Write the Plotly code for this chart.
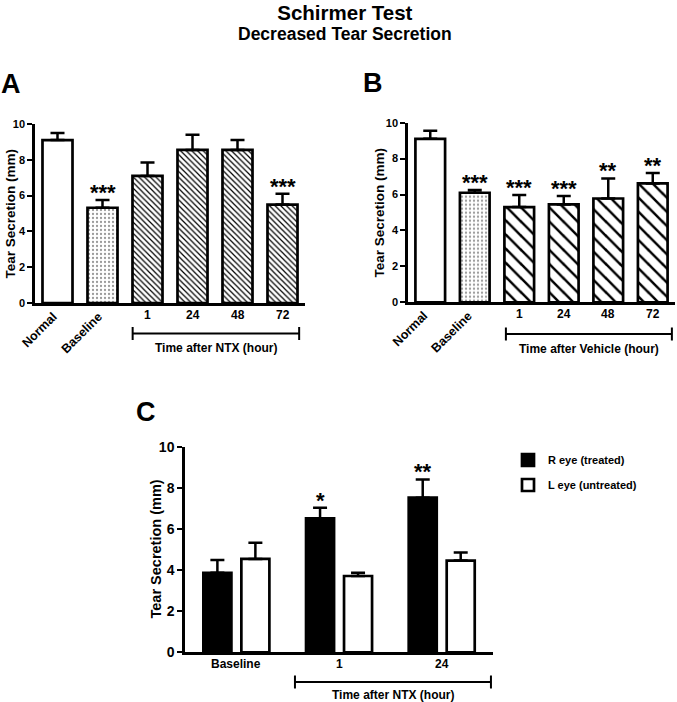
import plotly.graph_objects as go

# ---------------- data ----------------
A_cats = ["Normal", "Baseline", "1", "24", "48", "72"]
A_vals = [9.1, 5.32, 7.1, 8.55, 8.55, 5.5]
A_err = [0.4, 0.43, 0.75, 0.85, 0.55, 0.6]
A_stars = ["", "***", "", "", "", "***"]

B_cats = ["Normal", "Baseline", "1", "24", "48", "72"]
B_vals = [9.1, 6.1, 5.3, 5.45, 5.78, 6.62]
B_err = [0.45, 0.15, 0.67, 0.47, 1.12, 0.58]
B_stars = ["", "***", "***", "***", "**", "**"]

C_cats = ["Baseline", "1", "24"]
C_R = [3.87, 6.52, 7.52]
C_R_err = [0.62, 0.51, 0.89]
C_L = [4.54, 3.71, 4.46]
C_L_err = [0.79, 0.16, 0.40]
C_R_stars = ["", "*", "**"]

y_ticks = [0, 2, 4, 6, 8, 10]

# ---------------- styling ----------------
FONT = "Liberation Sans, Arial, sans-serif"
BLACK = "#000000"

fig = go.Figure()

def pattern_for(n, hatch_size, hatch_sol):
    shapes = ["", "."] + ["\\"] * (n - 2)
    sizes = [8, 4] + [hatch_size] * (n - 2)
    fg = [BLACK, "#9a9a9a"] + [BLACK] * (n - 2)
    sol = [0.2, 0.25] + [hatch_sol] * (n - 2)
    return dict(shape=shapes, size=sizes, fgcolor=fg, bgcolor="white",
                solidity=sol, fillmode="replace")

def err(arr):
    return dict(type="data", symmetric=False, array=arr, arrayminus=[0] * len(arr),
                color=BLACK, thickness=2.5, width=7)

fig.add_trace(go.Bar(
    x=A_cats, y=A_vals, xaxis="x", yaxis="y", width=0.667, showlegend=False,
    marker=dict(color="white", line=dict(color=BLACK, width=2.7),
                pattern=pattern_for(len(A_cats), 4, 0.3)),
    error_y=err(A_err), hoverinfo="skip"))

fig.add_trace(go.Bar(
    x=B_cats, y=B_vals, xaxis="x2", yaxis="y2", width=0.667, showlegend=False,
    marker=dict(color="white", line=dict(color=BLACK, width=2.7),
                pattern=pattern_for(len(B_cats), 10, 0.25)),
    error_y=err(B_err), hoverinfo="skip"))

C_W = 0.273
C_OFF_R = -0.321
C_OFF_L = 0.049
fig.add_trace(go.Bar(
    x=C_cats, y=C_R, xaxis="x3", yaxis="y3", width=C_W, offset=C_OFF_R,
    name="R eye (treated)", legend="legend",
    marker=dict(color=BLACK, line=dict(color=BLACK, width=2.7)),
    error_y=err(C_R_err), hoverinfo="skip"))
fig.add_trace(go.Bar(
    x=C_cats, y=C_L, xaxis="x3", yaxis="y3", width=C_W, offset=C_OFF_L,
    name="L eye (untreated)", legend="legend2",
    marker=dict(color="white", line=dict(color=BLACK, width=2.7)),
    error_y=err(C_L_err), hoverinfo="skip"))

# ---------------- axes ----------------
def yax(domain, anchor, size):
    return dict(domain=domain, anchor=anchor, range=[0, 10], tickvals=y_ticks,
                ticks="outside", ticklen=5, tickwidth=2, tickcolor=BLACK,
                showline=True, linewidth=2.5, linecolor=BLACK, showgrid=False,
                zeroline=False, automargin=False,
                tickfont=dict(family=FONT, size=size, color=BLACK, weight="bold"),
                fixedrange=True)

def xax(domain, anchor, n):
    return dict(domain=domain, anchor=anchor, type="category", range=[-0.5, n - 0.5],
                showticklabels=False, ticks="", showline=True, linewidth=2.5,
                linecolor=BLACK, showgrid=False, zeroline=False, automargin=False,
                fixedrange=True)

W, H = 677, 702
fig.update_layout(
    width=W, height=H, margin=dict(l=0, r=0, t=0, b=0, autoexpand=False),
    paper_bgcolor="white", plot_bgcolor="white", barmode="overlay",
    xaxis=xax([35 / W, 305 / W], "y", len(A_cats)),
    yaxis=yax([1 - 303 / H, 1 - 124 / H], "x", 11),
    xaxis2=xax([408 / W, 675 / W], "y2", len(B_cats)),
    yaxis2=yax([1 - 302.3 / H, 1 - 122.7 / H], "x2", 11),
    xaxis3=xax([185 / W, 493 / W], "y3", len(C_cats)),
    yaxis3=yax([1 - 652.3 / H, 1 - 446.7 / H], "x3", 14),
    legend=dict(x=508 / W, y=1 - 460 / H, xanchor="left", yanchor="middle",
                font=dict(family=FONT, size=11, color=BLACK, weight="bold"),
                bgcolor="rgba(0,0,0,0)"),
    legend2=dict(x=508 / W, y=1 - 485 / H, xanchor="left", yanchor="middle",
                 font=dict(family=FONT, size=11, color=BLACK, weight="bold"),
                 bgcolor="rgba(0,0,0,0)"),
)

ann = []
def A(**kw):
    ann.append(kw)

# two-line title in one text block
A(text="<span style='font-size:20.5px'>Schirmer Test</span><br>"
       "<span style='font-size:17.5px'>Decreased Tear Secretion</span>",
  x=345 / W, y=1 - 22 / H, xref="paper", yref="paper",
  xanchor="center", yanchor="middle", showarrow=False,
  font=dict(family=FONT, size=15.4, color=BLACK, weight="bold"))

# panel letters
for letter, px, py in [("A", 11, 84), ("B", 372.5, 83), ("C", 146, 411.5)]:
    A(text=letter, x=px / W, y=1 - py / H, xref="paper", yref="paper", showarrow=False,
      xanchor="center", yanchor="middle",
      font=dict(family=FONT, size=27, color=BLACK, weight="bold"))

# y titles
for xr, shift, size in [("x domain", -25, 13.5), ("x2 domain", -29, 13.5), ("x3 domain", -30, 14.5)]:
    yr = xr.replace("x", "y")
    A(text="Tear Secretion (mm)", x=0, y=0.5, xref=xr, yref=yr, xshift=shift,
      xanchor="center", yanchor="middle", textangle=-90, showarrow=False,
      font=dict(family=FONT, size=size, color=BLACK, weight="bold"))

# x labels A/B (category index positions)
for xr, yr, cats, rshift in [("x", "y domain", A_cats, 5), ("x2", "y2 domain", B_cats, 3)]:
    for i, c in enumerate(cats):
        if i < 2:
            A(text=c, x=i, y=0, xref=xr, yref=yr, textangle=-45, xanchor="right",
              yanchor="top", xshift=rshift, yshift=-4, showarrow=False,
              font=dict(family=FONT, size=12.5, color=BLACK, weight="bold"))
        else:
            A(text=c, x=i, y=0, xref=xr, yref=yr, xanchor="center", yanchor="middle",
              yshift=-12, showarrow=False,
              font=dict(family=FONT, size=12, color=BLACK, weight="bold"))
# x labels C
for i, c in enumerate(C_cats):
    A(text=c, x=i, y=0, xref="x3", yref="y3 domain", xanchor="center", yanchor="middle",
      yshift=-12, showarrow=False, font=dict(family=FONT, size=12, color=BLACK, weight="bold"))

# stars
def stars(xr, yr, vals, errs, marks, dx=0.0):
    for i, (v, e, m) in enumerate(zip(vals, errs, marks)):
        if m:
            A(text=m, x=i + dx, y=v + e, xref=xr, yref=yr, xanchor="center",
              yanchor="bottom", yshift=-7, showarrow=False,
              font=dict(family=FONT, size=22, color=BLACK, weight="bold"))

stars("x", "y", A_vals, A_err, A_stars)
stars("x2", "y2", B_vals, B_err, B_stars)
stars("x3", "y3", C_R, C_R_err, C_R_stars, dx=C_OFF_R + C_W / 2)

# brackets
shapes = []
def bracket(xr, x0, x1, ypx, label, dy):
    yp = 1 - ypx / H
    t = 6.5 / H
    ln = dict(color=BLACK, width=2)
    shapes.append(dict(type="line", xref=xr, yref="paper", x0=x0, x1=x1, y0=yp, y1=yp, line=ln))
    for xx in (x0, x1):
        shapes.append(dict(type="line", xref=xr, yref="paper", x0=xx, x1=xx, y0=yp - t, y1=yp + t, line=ln))
    A(text=label, x=(x0 + x1) / 2, y=yp - dy / H, xref=xr, yref="paper",
      xanchor="center", yanchor="middle", showarrow=False,
      font=dict(family=FONT, size=12, color=BLACK, weight="bold"))

bracket("x", 1.67, 5.37, 333.5, "Time after NTX (hour)", 14.5)
bracket("x2", 1.70, 5.43, 334, "Time after Vehicle (hour)", 14.5)
bracket("x3", 0.571, 2.48, 682, "Time after NTX (hour)", 12.5)

fig.update_layout(annotations=ann, shapes=shapes)
fig.write_html("out.html", config={"displayModeBar": False},
               post_script="document.body.style.margin='0';document.body.style.overflow='hidden';")
